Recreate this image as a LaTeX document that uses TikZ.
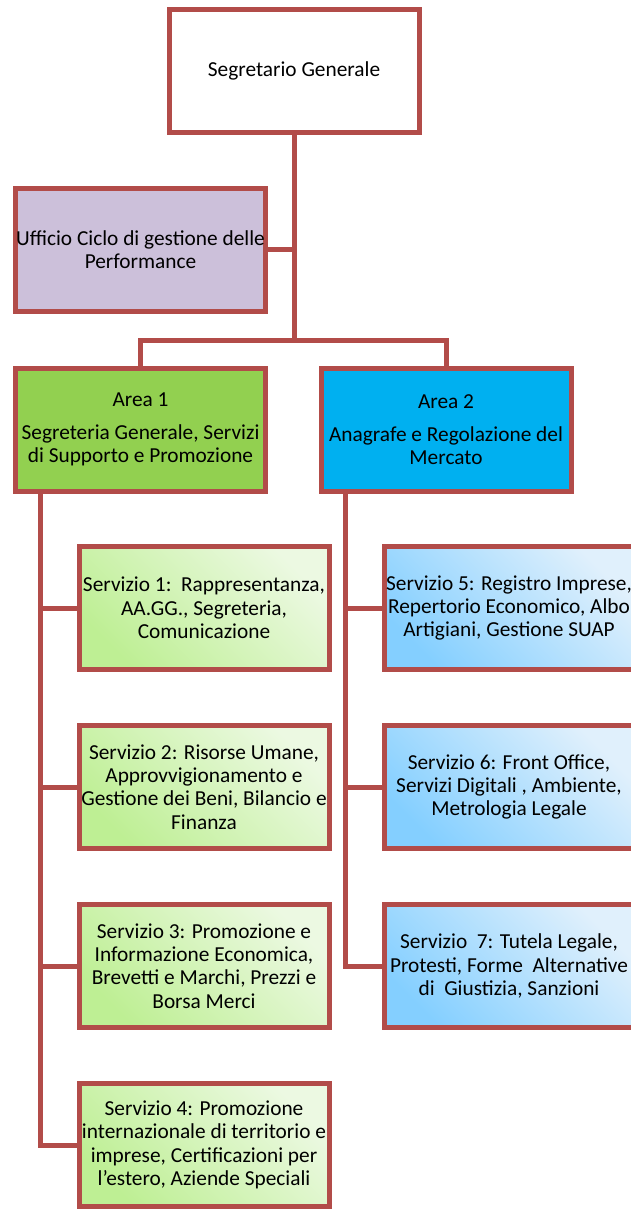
\documentclass[tikz,border=0pt]{standalone}
\usepackage{fontspec}
\setmainfont{Carlito}
\usetikzlibrary{positioning}
\pgfdeclarelayer{background layer}
\pgfsetlayers{background layer,main}
\definecolor{bordo}{RGB}{178,76,73}
\definecolor{lilla}{RGB}{204,192,218}
\definecolor{verde}{RGB}{146,208,80}
\definecolor{azzurro}{RGB}{0,176,240}
\definecolor{verdechiaro}{RGB}{236,249,226}
\definecolor{verdescuro}{RGB}{190,239,148}
\definecolor{azzurrochiaro}{RGB}{224,240,252}
\definecolor{azzurroscuro}{RGB}{132,207,255}

\begin{document}
\begin{tikzpicture}[x=0.75pt,y=-0.75pt]
\tikzstyle{box}=[draw=bordo,line width=3.75pt,rectangle,minimum width=187.5pt,minimum height=92.25pt,inner sep=0pt,align=center,font=\fontsize{16}{17.5}\selectfont]
\tikzstyle{servA}=[box,top color=verdechiaro,bottom color=verdescuro,shading angle=-45,node distance=134.25pt]
\tikzstyle{servB}=[box,top color=azzurrochiaro,bottom color=azzurroscuro,shading angle=-45,node distance=134.25pt]
\tikzstyle{link}=[draw=bordo,line width=3.75pt]
\useasboundingbox (0,0) rectangle (631,1209);
% vertice e staff
\node [box,fill=white] at (294,71) (segr) {Segretario Generale};
\node [box,fill=lilla] at (140.5,249.5) (uff) {Ufficio Ciclo di gestione delle\\Performance};
% aree
\node [box,fill=verde] at (140.5,429.5) (area1) {Area 1\\[7.5pt]Segreteria Generale, Servizi\\di Supporto e Promozione};
\node [box,fill=azzurro] at (446,429.5) (area2) {Area 2\\[7.5pt]Anagrafe e Regolazione del\\Mercato};
% servizi area 1
\node [servA] at (204,608) (serv1) {Servizio 1:\ \ Rappresentanza,\\AA.GG., Segreteria,\\Comunicazione};
\node [servA,below of=serv1] (serv2) {Servizio 2: Risorse Umane,\\Approvvigionamento e\\Gestione dei Beni, Bilancio e\\Finanza};
\node [servA,below of=serv2] (serv3) {Servizio 3: Promozione e\\Informazione Economica,\\Brevetti e Marchi, Prezzi e\\Borsa Merci};
\node [servA,below of=serv3] (serv4) {Servizio 4: Promozione\\internazionale di territorio e\\imprese, Certificazioni per\\l’estero, Aziende Speciali};
% servizi area 2
\node [servB] at (509,608) (serv5) {Servizio 5: Registro Imprese,\\Repertorio Economico, Albo\\Artigiani, Gestione SUAP};
\node [servB,below of=serv5] (serv6) {Servizio 6: Front Office,\\Servizi Digitali , Ambiente,\\Metrologia Legale};
\node [servB,below of=serv6] (serv7) {Servizio\ \ 7: Tutela Legale,\\Protesti, Forme\ \ Alternative\\di\ \ Giustizia, Sanzioni};
\coordinate (fork) at (294,340);
\coordinate (trunkA) at (40,490);
\coordinate (trunkB) at (345,490);
\begin{pgfonlayer}{background layer}
\draw [link] (segr) -- (fork);
\draw [link] (uff.east) -- (uff.east -| fork);
\draw [link] (area1.north) |- (fork) -| (area2.north);
\draw [link] (trunkA) |- (serv4.west);
\foreach \s in {serv1,serv2,serv3}
  \draw [link] (\s.west) -- (\s.west -| trunkA);
\draw [link] (trunkB) |- (serv7.west);
\foreach \s in {serv5,serv6}
  \draw [link] (\s.west) -- (\s.west -| trunkB);
\end{pgfonlayer}
\end{tikzpicture}
\end{document}
